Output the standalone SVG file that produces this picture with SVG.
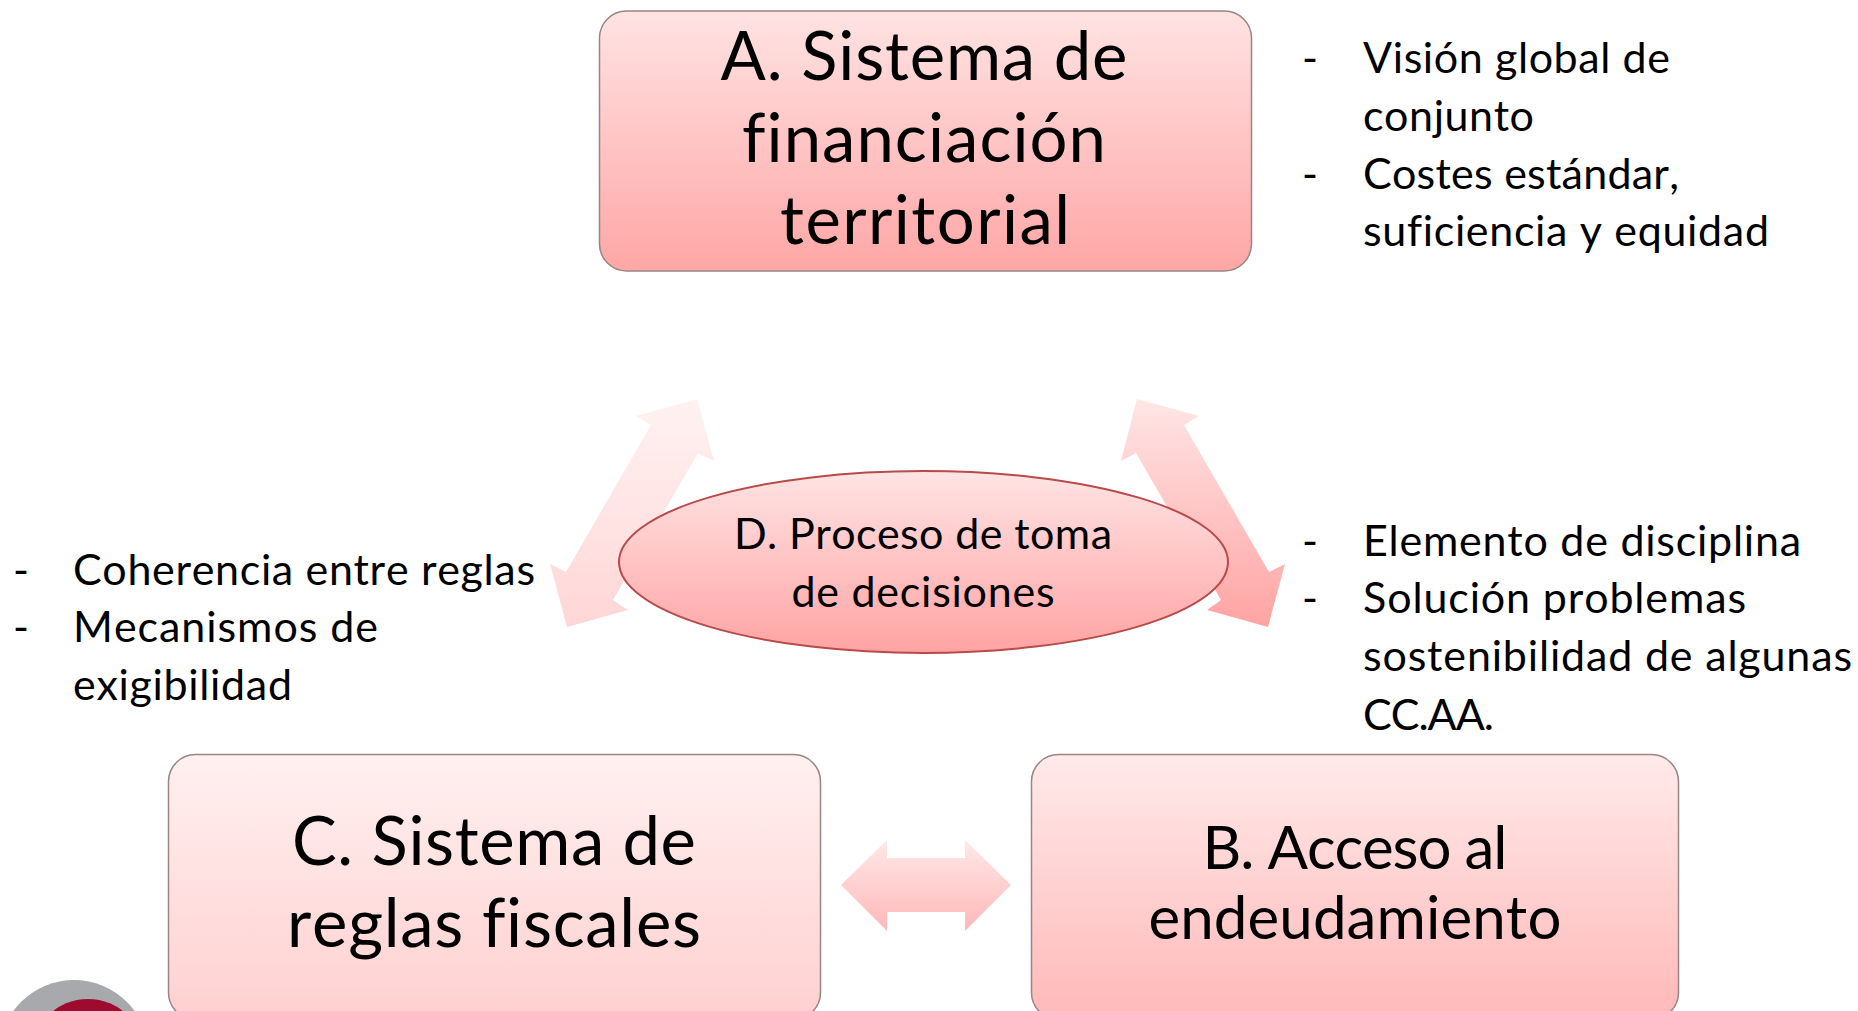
<svg xmlns="http://www.w3.org/2000/svg" width="1858" height="1011" viewBox="0 0 1858 1011">
<style>
text{font-family:"Lato","Carlito","Open Sans",sans-serif;fill:#000;font-variant-ligatures:none;font-kerning:none}
.t{font-size:67px;text-anchor:middle}
.s{font-size:60px;text-anchor:middle}
.b{font-size:43px}
.m{font-size:43px;text-anchor:middle}
.box{stroke:#9a8585;stroke-width:1.500}
</style>
<defs>
<linearGradient id="gA" x1="0" y1="0" x2="0" y2="1"><stop offset="0" stop-color="#ffe3e3"/><stop offset="1" stop-color="#ffa6a6"/></linearGradient>
<linearGradient id="gC" x1="0" y1="0" x2="0" y2="1"><stop offset="0" stop-color="#fff0f0"/><stop offset="1" stop-color="#ffd0d0"/></linearGradient>
<linearGradient id="gB" x1="0" y1="0" x2="0" y2="1"><stop offset="0" stop-color="#ffeaea"/><stop offset="1" stop-color="#ffb8b8"/></linearGradient>
<linearGradient id="gL" x1="0" y1="0" x2="0" y2="1"><stop offset="0" stop-color="#fff2f2"/><stop offset="1" stop-color="#ffd6d6"/></linearGradient>
<linearGradient id="gR" x1="0" y1="0" x2="0" y2="1"><stop offset="0" stop-color="#ffe6e6"/><stop offset="1" stop-color="#ffa3a3"/></linearGradient>
<linearGradient id="gM" x1="0" y1="0" x2="0" y2="1"><stop offset="0" stop-color="#ffe8e8"/><stop offset="1" stop-color="#ffb8b8"/></linearGradient>
<linearGradient id="gD" x1="0" y1="0" x2="0" y2="1"><stop offset="0" stop-color="#ffe4e4"/><stop offset="1" stop-color="#ffa3a3"/></linearGradient>
</defs>
<rect width="1858" height="1011" fill="#fff"/>
<g id="connectors">
<polygon fill="url(#gL)" points="697,399 636,416 651,425 566,572 550,564 567,627 628,610 613,600 698,453 714,461"/>
<polygon fill="url(#gR)" points="1137,399 1199,416 1184,425 1269,572 1285,564 1268,627 1207,610 1221,600 1136,453 1121,461"/>
<polygon fill="url(#gM)" points="841,885 887,840 887,858 965,858 965,840 1011,885 965,931 965,912 887,912 887,931"/>
</g>
<g id="node-a">
<rect class="box" x="599.500" y="11" width="652" height="260" rx="27" fill="url(#gA)"/>
<text class="t" x="924" y="80" textLength="407">A. Sistema de</text>
<text class="t" x="924" y="162" textLength="364">financiación</text>
<text class="t" x="925" y="244" textLength="290">territorial</text>
</g>
<g id="node-c">
<rect class="box" x="168.500" y="754.500" width="652" height="265" rx="27" fill="url(#gC)"/>
<text class="t" x="494" y="865" textLength="404">C. Sistema de</text>
<text class="t" x="494" y="947" textLength="414">reglas fiscales</text>
</g>
<g id="node-b">
<rect class="box" x="1031.500" y="754.500" width="647" height="265" rx="27" fill="url(#gB)"/>
<text class="s" x="1355" y="869" textLength="305">B. Acceso al</text>
<text class="s" x="1355" y="939" textLength="413">endeudamiento</text>
</g>
<g id="node-d">
<ellipse cx="923.500" cy="562" rx="304.500" ry="91" fill="url(#gD)" stroke="#b94a4a" stroke-width="2"/>
<text class="m" x="923" y="549" textLength="378">D. Proceso de toma</text>
<text class="m" x="923" y="607" textLength="263">de decisiones</text>
</g>
<g id="notes-a">
<text class="b" x="1302" y="73">-</text><text class="b" x="1363" y="73" textLength="307">Visión global de</text>
<text class="b" x="1363" y="131" textLength="171">conjunto</text>
<text class="b" x="1302" y="189">-</text><text class="b" x="1363" y="189" textLength="316">Costes estándar,</text>
<text class="b" x="1363" y="246" textLength="406">suficiencia y equidad</text>
</g>
<g id="notes-b">
<text class="b" x="1302" y="556">-</text><text class="b" x="1363" y="556" textLength="438">Elemento de disciplina</text>
<text class="b" x="1302" y="613">-</text><text class="b" x="1363" y="613" textLength="383">Solución problemas</text>
<text class="b" x="1363" y="671" textLength="489">sostenibilidad de algunas</text>
<text class="b" x="1363" y="730" textLength="131">CC.AA.</text>
</g>
<g id="notes-c">
<text class="b" x="13" y="585">-</text><text class="b" x="73" y="585" textLength="462">Coherencia entre reglas</text>
<text class="b" x="13" y="642">-</text><text class="b" x="73" y="642" textLength="305">Mecanismos de</text>
<text class="b" x="73" y="700" textLength="219">exigibilidad</text>
</g>
<g id="logo">
<circle cx="74" cy="1055" r="75" fill="#a7a9ac"/>
<circle cx="88" cy="1056" r="57" fill="#9d0b2e"/>
</g>
</svg>
